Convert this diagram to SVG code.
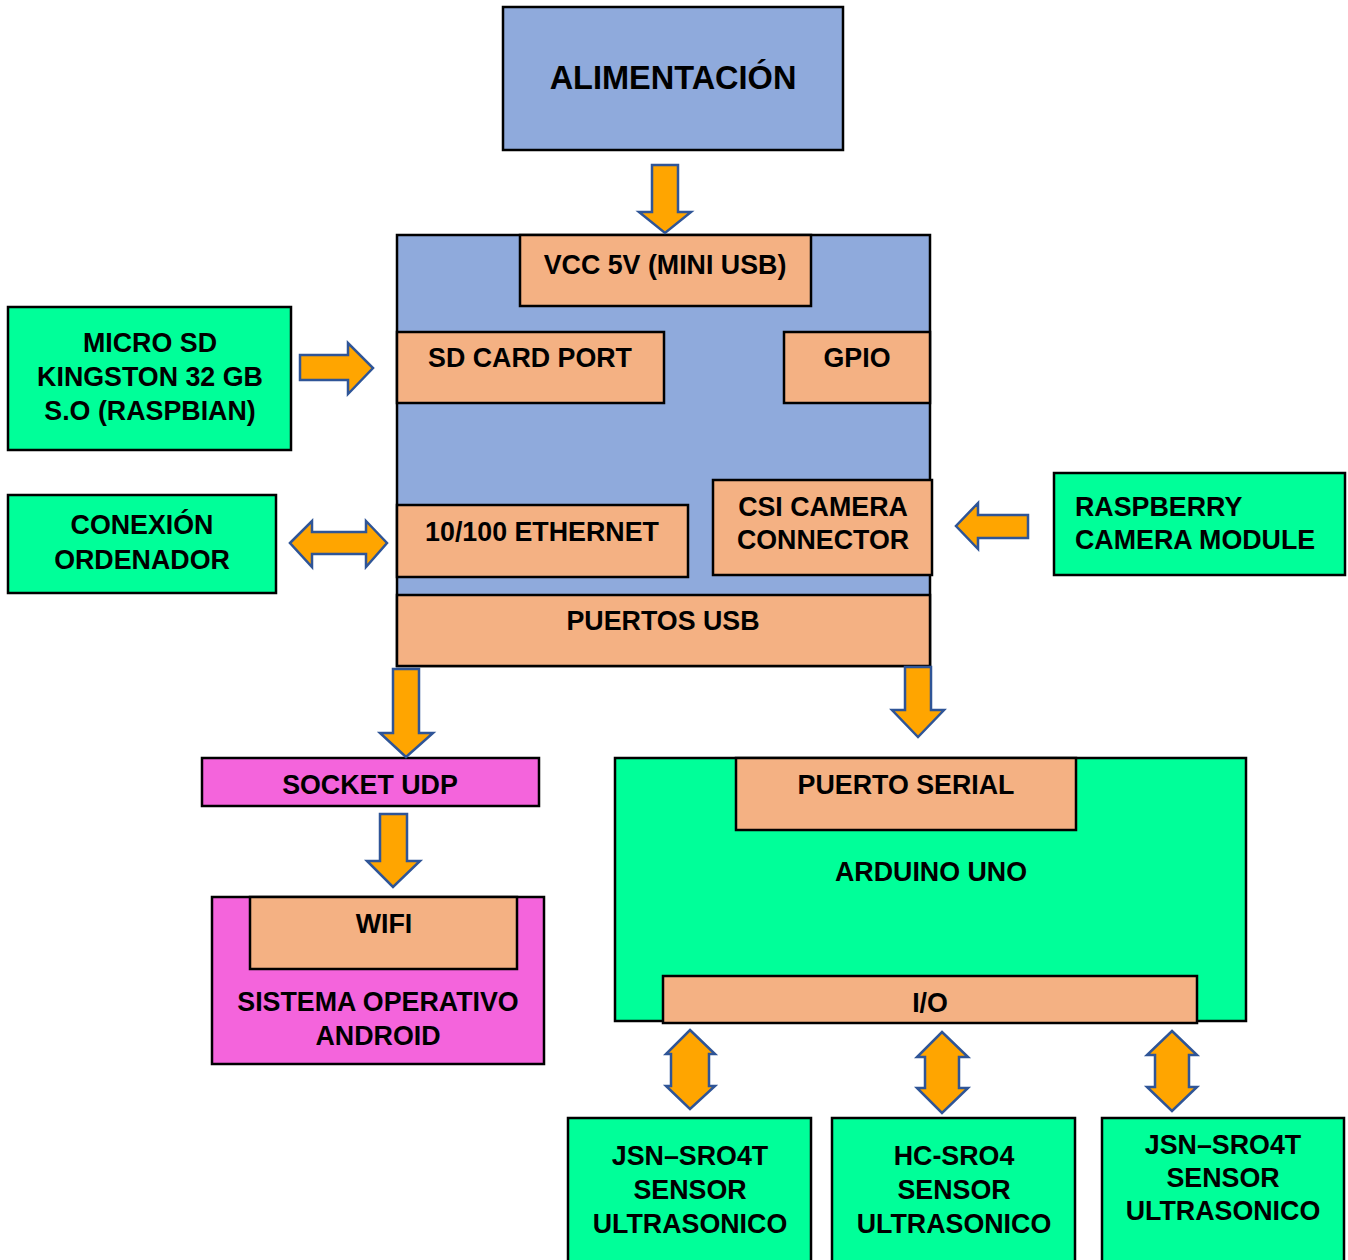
<svg xmlns="http://www.w3.org/2000/svg" width="1348" height="1260" viewBox="0 0 1348 1260">
<style>
.box{stroke:#000;stroke-width:2.5}
.blue{fill:#8faadc}
.peach{fill:#f4b183}
.green{fill:#00ff99}
.mag{fill:#f464dc}
.arr{fill:#ffa500;stroke:#2f5597;stroke-width:2.5;stroke-linejoin:miter}
text{font-family:"Liberation Sans",Arial,sans-serif;font-weight:bold;font-size:26.8px;fill:#000;text-anchor:middle}
</style>
<rect width="1348" height="1260" fill="#fff"/>
<g id="alimentacion">
<rect class="box blue" x="503" y="7" width="340" height="143"/>
<text x="673" y="89" style="font-size:32.5px">ALIMENTACIÓN</text>
</g>
<g id="raspberry">
<rect class="box blue" x="397" y="235" width="533" height="431"/>
</g>
<g id="vcc">
<rect class="box peach" x="520" y="235" width="291" height="71"/>
<text x="665" y="274">VCC 5V (MINI USB)</text>
</g>
<g id="sdport">
<rect class="box peach" x="397" y="332" width="267" height="71"/>
<text x="530" y="367">SD CARD PORT</text>
</g>
<g id="gpio">
<rect class="box peach" x="784" y="332" width="146" height="71"/>
<text x="857" y="367">GPIO</text>
</g>
<g id="ethernet">
<rect class="box peach" x="397" y="505" width="291" height="72"/>
<text x="542" y="541">10/100 ETHERNET</text>
</g>
<g id="csi">
<rect class="box peach" x="713" y="480" width="219" height="95"/>
<text x="823" y="516">CSI CAMERA</text>
<text x="823" y="549">CONNECTOR</text>
</g>
<g id="usb">
<rect class="box peach" x="397" y="595" width="533" height="71"/>
<text x="663" y="630">PUERTOS USB</text>
</g>
<g id="microsd">
<rect class="box green" x="8" y="307" width="283" height="143"/>
<text x="150" y="352">MICRO SD</text>
<text x="150" y="386">KINGSTON 32 GB</text>
<text x="150" y="420">S.O (RASPBIAN)</text>
</g>
<g id="conexion">
<rect class="box green" x="8" y="495" width="268" height="98"/>
<text x="142" y="534">CONEXIÓN</text>
<text x="142" y="569">ORDENADOR</text>
</g>
<g id="camera">
<rect class="box green" x="1054" y="473" width="291" height="102"/>
<text x="1075" y="516" style="text-anchor:start">RASPBERRY</text>
<text x="1075" y="549" style="text-anchor:start">CAMERA MODULE</text>
</g>
<g id="socket">
<rect class="box mag" x="202" y="758" width="337" height="48"/>
<text x="370" y="794">SOCKET UDP</text>
</g>
<g id="android">
<rect class="box mag" x="212" y="897" width="332" height="167"/>
<rect class="box peach" x="250" y="897" width="267" height="72"/>
<text x="384" y="933">WIFI</text>
<text x="378" y="1011">SISTEMA OPERATIVO</text>
<text x="378" y="1045">ANDROID</text>
</g>
<g id="arduino">
<rect class="box green" x="615" y="758" width="631" height="263"/>
<rect class="box peach" x="736" y="758" width="340" height="72"/>
<text x="906" y="794">PUERTO SERIAL</text>
<text x="931" y="881">ARDUINO UNO</text>
</g>
<g id="io">
<rect class="box peach" x="663" y="976" width="534" height="47"/>
<text x="930" y="1012">I/O</text>
</g>
<g id="sensor1">
<rect class="box green" x="568" y="1118" width="243" height="150"/>
<text x="690" y="1165">JSN–SRO4T</text>
<text x="690" y="1199">SENSOR</text>
<text x="690" y="1233">ULTRASONICO</text>
</g>
<g id="sensor2">
<rect class="box green" x="832" y="1118" width="243" height="150"/>
<text x="954" y="1165">HC-SRO4</text>
<text x="954" y="1199">SENSOR</text>
<text x="954" y="1233">ULTRASONICO</text>
</g>
<g id="sensor3">
<rect class="box green" x="1102" y="1118" width="242" height="150"/>
<text x="1223" y="1154">JSN–SRO4T</text>
<text x="1223" y="1187">SENSOR</text>
<text x="1223" y="1220">ULTRASONICO</text>
</g>
<g id="connectors">
<path class="arr" d="M652,165 H678 V212 H691 L665,233 L639,212 H652 Z"/>
<path class="arr" d="M300,355 H348 V343 L373,368 L348,394 V380 H300 Z"/>
<path class="arr" d="M290,543 L312,521 V532 H366 V521 L387,543 L366,567 V554 H312 V567 Z"/>
<path class="arr" d="M1028,515 V538 H978 V549 L956,526 L978,503 V515 Z"/>
<path class="arr" d="M393,669 H419 V733 H433 L406,757 L380,733 H393 Z"/>
<path class="arr" d="M905,667 H931 V710 H944 L918,737 L892,710 H905 Z"/>
<path class="arr" d="M380,814 H407 V861 H420 L393,887 L367,861 H380 Z"/>
<path class="arr" d="M690,1030 L715,1054 H709 V1086 H715 L690,1109 L666,1086 H671 V1054 H666 Z"/>
<path class="arr" d="M942,1032 L968,1057 H959 V1088 H968 L942,1113 L917,1088 H925 V1057 H917 Z"/>
<path class="arr" d="M1172,1031 L1197,1055 H1189 V1087 H1197 L1172,1111 L1147,1087 H1155 V1055 H1147 Z"/>
</g>
</svg>
